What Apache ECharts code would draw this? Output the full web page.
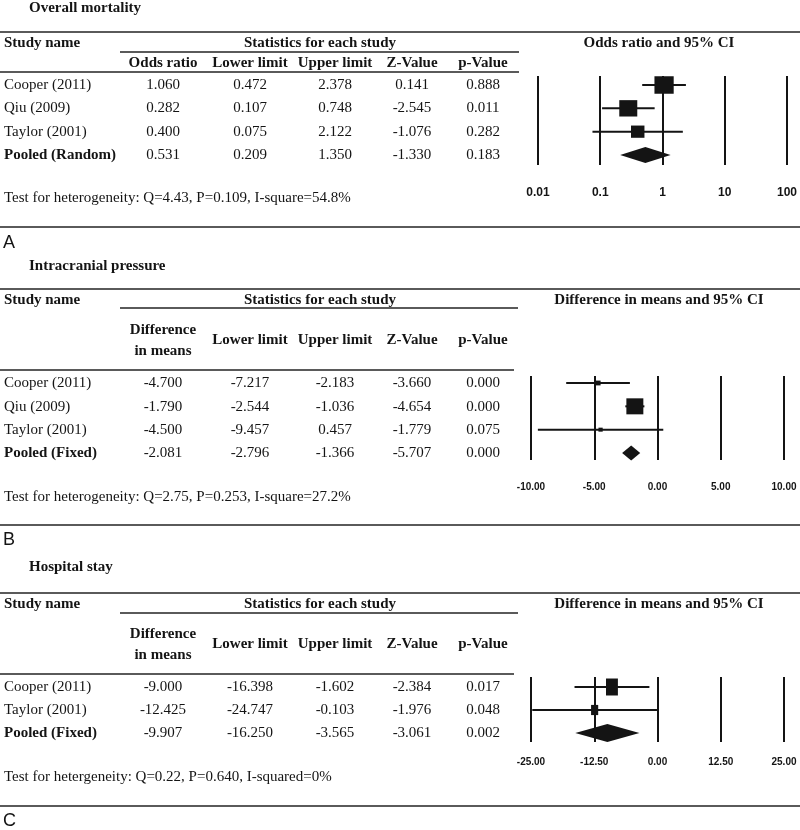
<!DOCTYPE html>
<html><head><meta charset="utf-8">
<script src="https://cdn.jsdelivr.net/npm/echarts@6/dist/echarts.min.js"></script>
<style>html,body{margin:0;padding:0;background:#fff}#c{width:800px;height:830px}</style>
</head><body><div id="c"></div>
<script>
// ---------- Panel A : Overall mortality ----------
const titleA = 'Overall mortality';
const studiesA = ['Cooper (2011)', 'Qiu (2009)', 'Taylor (2001)', 'Pooled (Random)'];
const effectA = [1.060, 0.282, 0.400, 0.531];
const lowerA = [0.472, 0.107, 0.075, 0.209];
const upperA = [2.378, 0.748, 2.122, 1.350];
const zA = [0.141, -2.545, -1.076, -1.330];
const pA = [0.888, 0.011, 0.282, 0.183];
const weightsA = [42.3, 37.0, 20.7];
const headersA = [['Odds ratio'], ['Lower limit'], ['Upper limit'], ['Z-Value'], ['p-Value']];
const plotTitleA = 'Odds ratio and 95% CI';
const ticksA = [0.01, 0.1, 1, 10, 100];
const tickLabelsA = ['0.01', '0.1', '1', '10', '100'];
const hetA = 'Test for heterogeneity: Q=4.43, P=0.109, I-square=54.8%';

// ---------- Panel B : Intracranial pressure ----------
const titleB = 'Intracranial pressure';
const studiesB = ['Cooper (2011)', 'Qiu (2009)', 'Taylor (2001)', 'Pooled (Fixed)'];
const effectB = [-4.700, -1.790, -4.500, -2.081];
const lowerB = [-7.217, -2.544, -9.457, -2.796];
const upperB = [-2.183, -1.036, 0.457, -1.366];
const zB = [-3.660, -4.654, -1.779, -5.707];
const pB = [0.000, 0.000, 0.075, 0.000];
const weightsB = [8.1, 89.8, 2.1];
const headersB = [['Difference', 'in means'], ['Lower limit'], ['Upper limit'], ['Z-Value'], ['p-Value']];
const plotTitleB = 'Difference in means and 95% CI';
const ticksB = [-10, -5, 0, 5, 10];
const tickLabelsB = ['-10.00', '-5.00', '0.00', '5.00', '10.00'];
const hetB = 'Test for heterogeneity: Q=2.75, P=0.253, I-square=27.2%';

// ---------- Panel C : Hospital stay ----------
const titleC = 'Hospital stay';
const studiesC = ['Cooper (2011)', 'Taylor (2001)', 'Pooled (Fixed)'];
const effectC = [-9.000, -12.425, -9.907];
const lowerC = [-16.398, -24.747, -16.250];
const upperC = [-1.602, -0.103, -3.565];
const zC = [-2.384, -1.976, -3.061];
const pC = [0.017, 0.048, 0.002];
const weightsC = [73.6, 26.4];
const headersC = [['Difference', 'in means'], ['Lower limit'], ['Upper limit'], ['Z-Value'], ['p-Value']];
const plotTitleC = 'Difference in means and 95% CI';
const ticksC = [-25, -12.5, 0, 12.5, 25];
const tickLabelsC = ['-25.00', '-12.50', '0.00', '12.50', '25.00'];
const hetC = 'Test for hetergeneity: Q=0.22, P=0.640, I-squared=0%';

// ---------- layout & style ----------
const SERIF = '"Liberation Serif","Times New Roman",serif';
const NARROW = '"Liberation Sans Narrow","Arial Narrow","Liberation Sans",Arial,sans-serif';
const INK = '#141414';
const RULE = '#5a5a5a';
const colX = [163, 250, 335, 412, 483];

const panels = [
  { title: titleA, letter: 'A', studies: studiesA, cols: [effectA, lowerA, upperA, zA, pA], headers: headersA,
    plotTitle: plotTitleA, het: hetA, eff: effectA, lo: lowerA, hi: upperA, w: weightsA,
    ticks: ticksA, tickLabels: tickLabelsA, log: true,
    titleY: 8, topY: 32, head1Y: 43, statY: 52, statX2: 519, headY: 63, headLineY: 72, headLineX2: 519,
    rowsY: [85, 108, 132, 155], hetY: 198, bottomY: 227, letterY: 243,
    grid: { left: 538, top: 76, width: 249, height: 89 }, labelSize: 12, labelMargin: 22,
    kH: 2.69, aspect: 1.1, diamondH: 16 },
  { title: titleB, letter: 'B', studies: studiesB, cols: [effectB, lowerB, upperB, zB, pB], headers: headersB,
    plotTitle: plotTitleB, het: hetB, eff: effectB, lo: lowerB, hi: upperB, w: weightsB,
    ticks: ticksB, tickLabels: tickLabelsB, log: false, min: -10, max: 10, interval: 5,
    titleY: 266, topY: 289, head1Y: 300, statY: 308, statX2: 518, headY: 340.5, headLineY: 370, headLineX2: 514,
    rowsY: [383, 407, 430, 453], hetY: 497, bottomY: 525, letterY: 540,
    grid: { left: 531, top: 376, width: 253, height: 84 }, labelSize: 10, labelMargin: 22,
    kH: 1.69, aspect: 1.06, diamondH: 15 },
  { title: titleC, letter: 'C', studies: studiesC, cols: [effectC, lowerC, upperC, zC, pC], headers: headersC,
    plotTitle: plotTitleC, het: hetC, eff: effectC, lo: lowerC, hi: upperC, w: weightsC,
    ticks: ticksC, tickLabels: tickLabelsC, log: false, min: -25, max: 25, interval: 12.5,
    titleY: 567, topY: 593, head1Y: 604, statY: 613, statX2: 518, headY: 644.5, headLineY: 674, headLineX2: 514,
    rowsY: [687, 710, 733], hetY: 777, bottomY: 806, letterY: 821,
    grid: { left: 531, top: 677, width: 253, height: 65 }, labelSize: 10, labelMargin: 15,
    kH: 1.98, aspect: 0.7, diamondH: 18 }
];

function T(text, x, y, o) {
  o = o || {};
  return { type: 'text', x: x, y: y, silent: true,
    style: { text: text, fill: INK, fontFamily: o.family || SERIF, fontSize: o.size || 15,
      fontWeight: o.bold ? 'bold' : 'normal', align: o.align || 'left', verticalAlign: 'middle' } };
}
function L(x1, y1, x2, y2, w) {
  return { type: 'line', silent: true, shape: { x1: x1, y1: y1, x2: x2, y2: y2 },
    style: { stroke: RULE, lineWidth: w || 2 } };
}

const graphics = [];
panels.forEach(P => {
  graphics.push(T(P.title, 29, P.titleY, { bold: true }));
  graphics.push(L(0, P.topY, 800, P.topY));
  graphics.push(T('Study name', 4, P.head1Y, { bold: true }));
  graphics.push(T('Statistics for each study', 320, P.head1Y, { bold: true, align: 'center' }));
  graphics.push(T(P.plotTitle, 659, P.head1Y, { bold: true, align: 'center' }));
  graphics.push(L(120, P.statY, P.statX2, P.statY));
  P.headers.forEach((lines, c) => {
    lines.forEach((s, k) => {
      const y = P.headY + (k - (lines.length - 1) / 2) * 21;
      graphics.push(T(s, colX[c], y, { bold: true, align: 'center' }));
    });
  });
  graphics.push(L(0, P.headLineY, P.headLineX2, P.headLineY));
  P.studies.forEach((s, i) => {
    const pooled = i === P.studies.length - 1;
    graphics.push(T(s, 4, P.rowsY[i], { bold: pooled }));
    P.cols.forEach((col, c) => {
      graphics.push(T(col[i].toFixed(3), colX[c], P.rowsY[i], { align: 'center' }));
    });
  });
  graphics.push(T(P.het, 4, P.hetY));
  graphics.push(L(0, P.bottomY, 800, P.bottomY));
  graphics.push(T(P.letter, 3, P.letterY, { family: '"Liberation Sans",Arial,sans-serif', size: 18 }));
});

const grids = [], xAxes = [], yAxes = [], series = [];
panels.forEach((P, idx) => {
  const n = P.studies.length;
  const g = P.grid;
  grids.push({ left: g.left, top: g.top, width: g.width, height: g.height });
  const sp = (P.rowsY[n - 1] - P.rowsY[0]) / (n - 1);
  yAxes.push({ gridIndex: idx, type: 'value', inverse: true, show: false,
    min: -(P.rowsY[0] - g.top) / sp, max: (n - 1) + (g.top + g.height - P.rowsY[n - 1]) / sp });
  const fmt = v => {
    const i = P.ticks.findIndex(t => P.log ? Math.abs(Math.log10(t) - Math.log10(v)) < 1e-6 : Math.abs(t - v) < 1e-9);
    return i >= 0 ? P.tickLabels[i] : '';
  };
  const xa = { gridIndex: idx, axisLine: { show: false }, axisTick: { show: false },
    splitLine: { show: true, showMinLine: true, showMaxLine: true, lineStyle: { color: INK, width: 2 } },
    axisLabel: { formatter: fmt, margin: P.labelMargin, color: INK, fontFamily: NARROW, fontWeight: 'bold',
      fontSize: P.labelSize, showMinLabel: true, showMaxLabel: true } };
  if (P.log) Object.assign(xa, { type: 'log', logBase: 10, min: P.ticks[0], max: P.ticks[P.ticks.length - 1] });
  else Object.assign(xa, { type: 'value', min: P.min, max: P.max, interval: P.interval });
  xAxes.push(xa);
  const data = P.eff.map((e, i) => [e, P.lo[i], P.hi[i], i, i < P.w.length ? P.w[i] : 0, i === n - 1 ? 1 : 0]);
  series.push({
    type: 'custom', xAxisIndex: idx, yAxisIndex: idx, coordinateSystem: 'cartesian2d',
    encode: { x: [0, 1, 2], y: 3 }, data: data, clip: false, silent: true,
    renderItem: (params, api) => {
      const row = api.value(3);
      const pe = api.coord([api.value(0), row]);
      const pl = api.coord([api.value(1), row]);
      const ph = api.coord([api.value(2), row]);
      const y = pe[1];
      if (api.value(5) === 1) {
        const h = P.diamondH / 2;
        return { type: 'polygon', shape: { points: [[pl[0], y], [pe[0], y - h], [ph[0], y], [pe[0], y + h]] },
          style: { fill: INK } };
      }
      const sh = Math.max(4, P.kH * Math.sqrt(api.value(4)));
      const sw = Math.max(4, sh * P.aspect);
      return { type: 'group', children: [
        { type: 'line', shape: { x1: pl[0], y1: y, x2: ph[0], y2: y }, style: { stroke: INK, lineWidth: 2 } },
        { type: 'rect', shape: { x: pe[0] - sw / 2, y: y - sh / 2, width: sw, height: sh }, style: { fill: INK } }
      ] };
    }
  });
});

const chart = echarts.init(document.getElementById('c'), null, { renderer: 'canvas' });
chart.setOption({
  animation: false,
  backgroundColor: '#fff',
  grid: grids, xAxis: xAxes, yAxis: yAxes, series: series,
  graphic: { elements: graphics }
});
</script></body></html>
